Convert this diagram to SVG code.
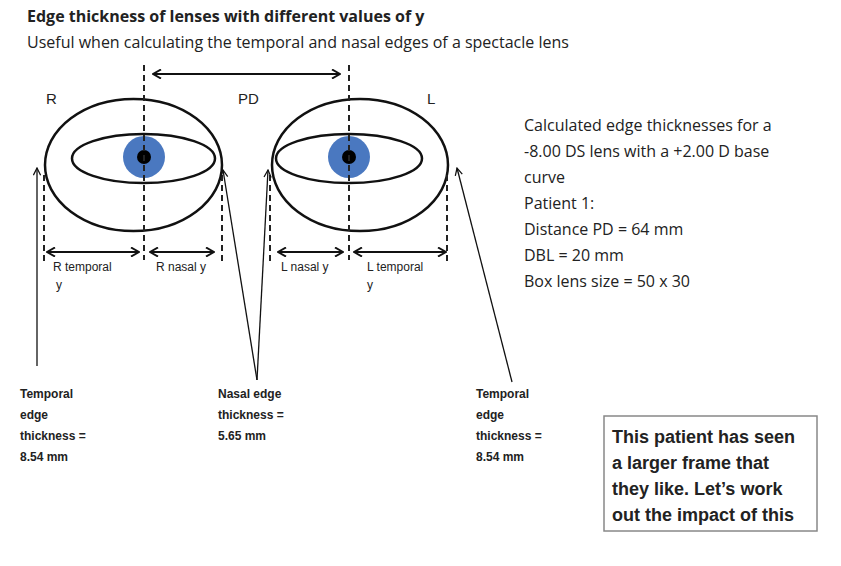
<svg xmlns="http://www.w3.org/2000/svg" width="841" height="566" viewBox="0 0 841 566">
<style>
text{font-family:"Liberation Sans",Arial,sans-serif;fill:#222}
.c{font-family:"Open Sans","Liberation Sans",sans-serif}
.s{font-size:12px}
.b{font-weight:bold;font-size:12px}
.ol{fill:none;stroke:#111;stroke-width:2.5}
.d{stroke:#222;stroke-width:2;stroke-dasharray:6,4;fill:none}
.a{stroke:#111;stroke-width:2.2;fill:none;marker-start:url(#h);marker-end:url(#h)}
.p{stroke:#111;stroke-width:1.3;fill:none}
</style>
<defs>
<marker id="h" viewBox="0 0 10 10" refX="9" refY="5" markerWidth="10" markerHeight="10" markerUnits="userSpaceOnUse" orient="auto-start-reverse"><path d="M1,0.5L9,5L1,9.5" fill="none" stroke="#111" stroke-width="2"/></marker>
<marker id="t" viewBox="0 0 10 10" refX="9" refY="5" markerWidth="9" markerHeight="9" markerUnits="userSpaceOnUse" orient="auto"><path d="M1,1L9,5L1,9" fill="none" stroke="#111" stroke-width="1.4"/></marker>
</defs>
<rect width="841" height="566" fill="#fff"/>
<text x="27" y="22" font-size="16" font-weight="bold" class="c">Edge thickness of lenses with different values of y</text>
<text x="27" y="48" font-size="16" class="c">Useful when calculating the temporal and nasal edges of a spectacle lens</text>
<g id="lensR">
<ellipse class="ol" cx="133.5" cy="165" rx="88.5" ry="66"/>
<ellipse class="ol" cx="143.5" cy="158.5" rx="71.5" ry="24.5"/>
<circle cx="144" cy="157" r="21" fill="#4a78c0"/>
<circle cx="144" cy="157" r="7" fill="#000"/>
<text x="46" y="104" font-size="15">R</text>
</g>
<g id="lensL">
<ellipse class="ol" cx="360" cy="165" rx="88" ry="66"/>
<ellipse class="ol" cx="349" cy="158.5" rx="73" ry="24.5"/>
<circle cx="349" cy="157" r="21" fill="#4a78c0"/>
<circle cx="349" cy="157" r="7" fill="#000"/>
<text x="427" y="104" font-size="15">L</text>
</g>
<g id="connectors">
<path class="d" d="M144,65V260M349,65V260M44,175V265M222,175V262M270,175V262M447,175V265"/>
<line class="a" x1="153" y1="74" x2="340" y2="74"/>
<line class="a" x1="47" y1="252" x2="139" y2="252"/>
<line class="a" x1="150" y1="252" x2="214" y2="252"/>
<line class="a" x1="278" y1="252" x2="343" y2="252"/>
<line class="a" x1="354" y1="252" x2="446" y2="252"/>
<line class="p" x1="37" y1="366" x2="37" y2="168" marker-end="url(#t)"/>
<line class="p" x1="257" y1="380" x2="223" y2="170" marker-end="url(#t)"/>
<line class="p" x1="257" y1="380" x2="268" y2="170" marker-end="url(#t)"/>
<line class="p" x1="512" y1="382" x2="457" y2="168" marker-end="url(#t)"/>
</g>
<g id="labels">
<text x="238" y="104" font-size="15">PD</text>
<text x="53" y="271" class="s">R temporal</text>
<text x="56" y="289" class="s">y</text>
<text x="156" y="271" class="s">R nasal y</text>
<text x="281" y="271" class="s">L nasal y</text>
<text x="367" y="271" class="s">L temporal</text>
<text x="367" y="289" class="s">y</text>
</g>
<g id="noteR" font-size="16" class="c">
<text x="524" y="131" class="c">Calculated edge thicknesses for a</text>
<text x="524" y="157" class="c">-8.00 DS lens with a +2.00 D base</text>
<text x="524" y="183" class="c">curve</text>
<text x="524" y="209" class="c">Patient 1:</text>
<text x="524" y="235" class="c">Distance PD = 64 mm</text>
<text x="524" y="261" class="c">DBL = 20 mm</text>
<text x="524" y="287" class="c">Box lens size = 50 x 30</text>
</g>
<g id="t1"><text x="20" y="398" class="b">Temporal</text><text x="20" y="419" class="b">edge</text><text x="20" y="440" class="b">thickness =</text><text x="20" y="461" class="b">8.54 mm</text></g>
<g id="t2"><text x="218" y="398" class="b">Nasal edge</text><text x="218" y="419" class="b">thickness =</text><text x="218" y="440" class="b">5.65 mm</text></g>
<g id="t3"><text x="476" y="398" class="b">Temporal</text><text x="476" y="419" class="b">edge</text><text x="476" y="440" class="b">thickness =</text><text x="476" y="461" class="b">8.54 mm</text></g>
<g id="box">
<rect x="604" y="416" width="213" height="115" fill="#fff" stroke="#888" stroke-width="1.5"/>
<text x="612" y="443" font-size="18" font-weight="bold">This patient has seen</text>
<text x="612" y="469" font-size="18" font-weight="bold">a larger frame that</text>
<text x="612" y="495" font-size="18" font-weight="bold">they like. Let’s work</text>
<text x="612" y="521" font-size="18" font-weight="bold">out the impact of this</text>
</g>
</svg>
